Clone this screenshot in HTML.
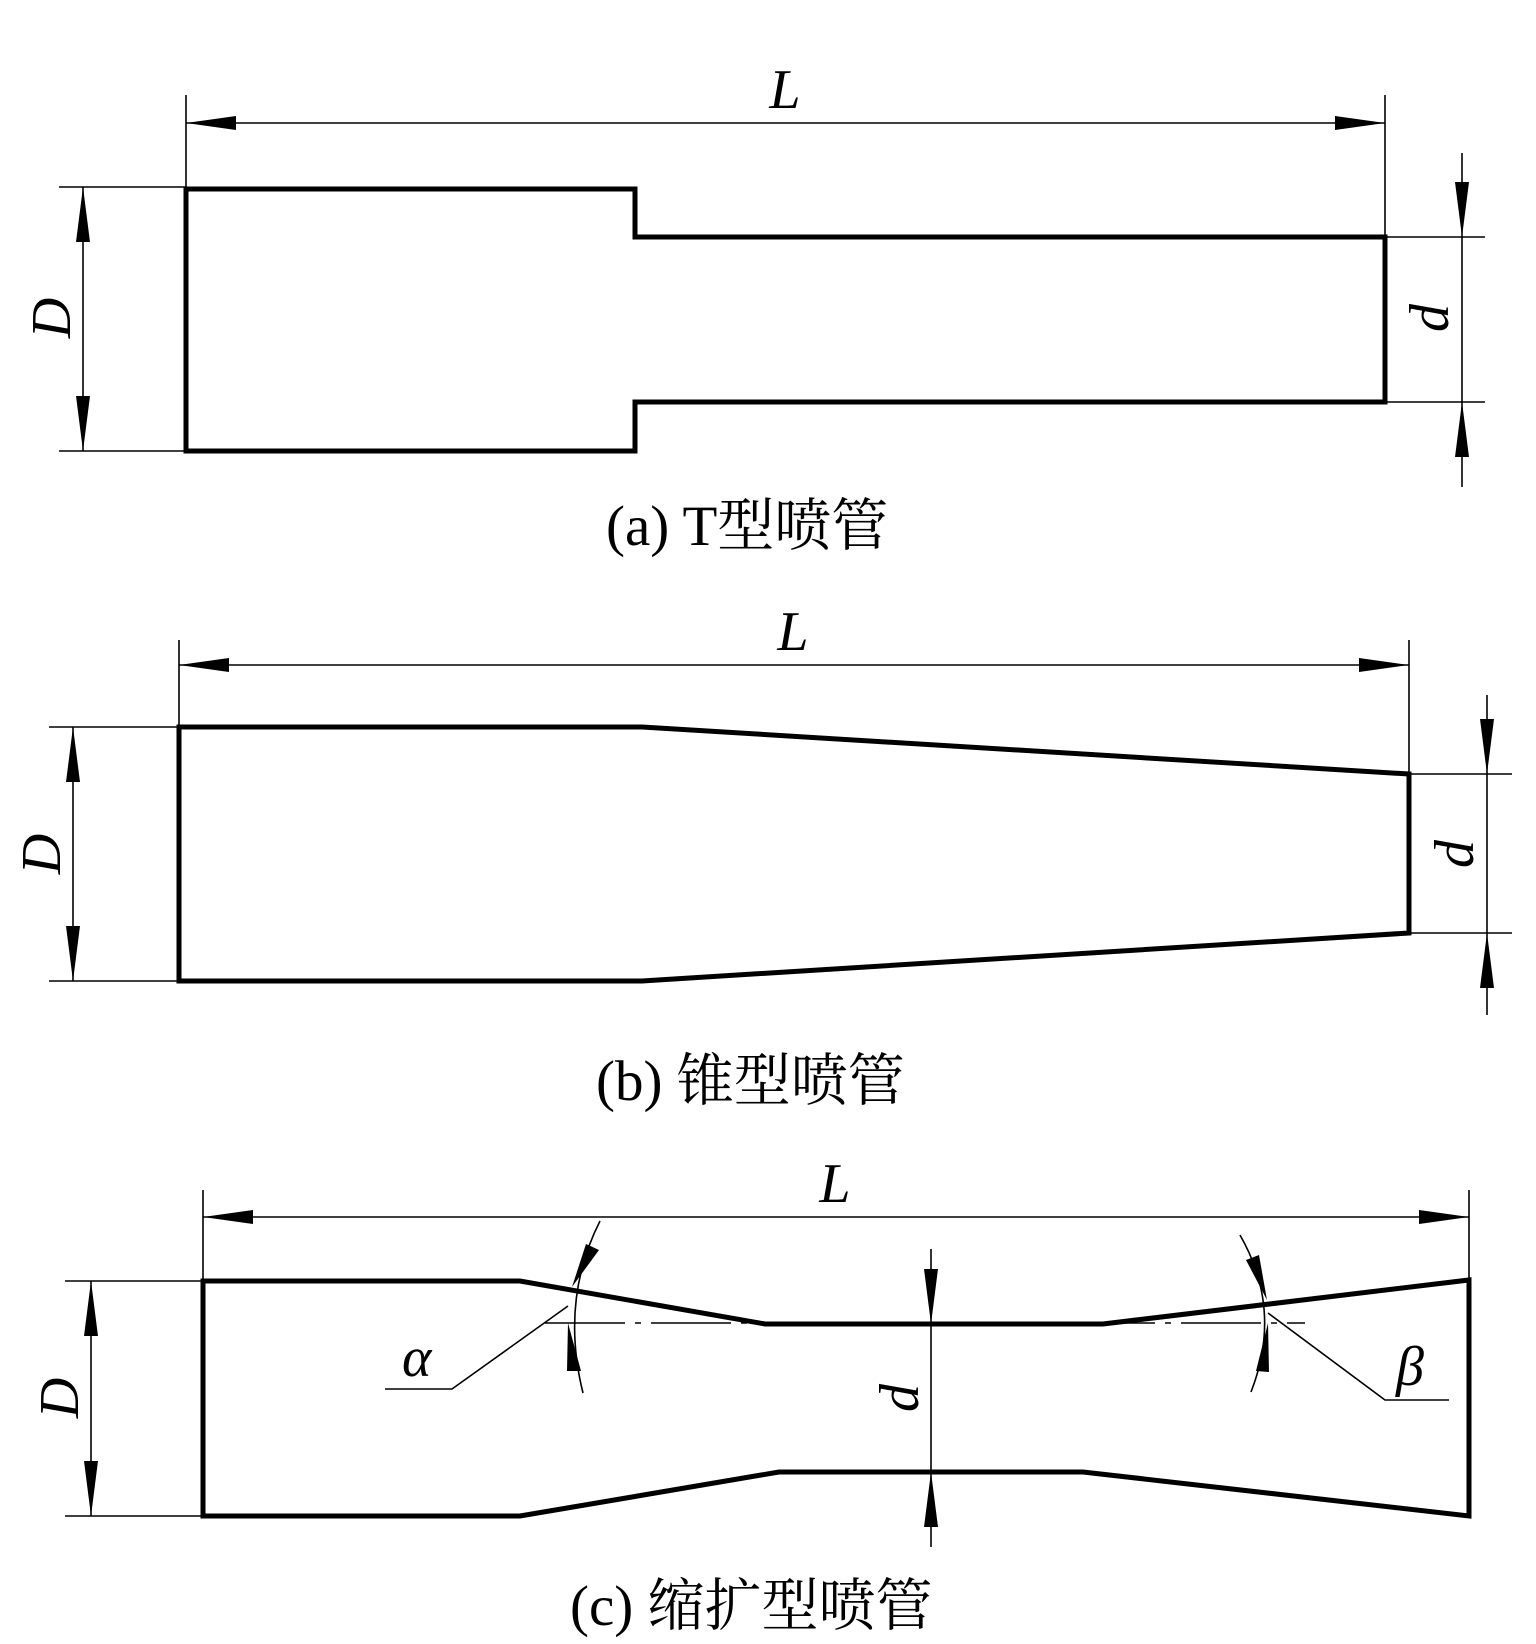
<!DOCTYPE html>
<html><head><meta charset="utf-8"><style>
html,body{margin:0;padding:0;background:#fff;}
svg{display:block;}
.tk{stroke:#000;stroke-width:5;fill:none;stroke-linejoin:miter;}
.tn{stroke:#000;stroke-width:1.6;fill:none;}
.cap{font-family:"Liberation Serif","Noto Serif CJK SC",serif;font-size:57px;fill:#000;}
.it{font-family:"Liberation Serif",serif;font-style:italic;font-size:56px;fill:#000;}
</style></head><body>
<svg width="1536" height="1644" viewBox="0 0 1536 1644" xmlns="http://www.w3.org/2000/svg">

<!-- (a) -->
<path class="tk" d="M186,189 H635 V237 H1385 V402 H635 V451 H186 Z"/>
<line class="tn" x1="186" y1="95" x2="186" y2="189"/>
<line class="tn" x1="1385" y1="95" x2="1385" y2="237"/>
<line class="tn" x1="186" y1="123" x2="1385" y2="123"/>
<path d="M186,123 L236,116 L236,130 Z M1385,123 L1335,116 L1335,130 Z" fill="#000"/>
<text class="it" x="785" y="108" text-anchor="middle">L</text>
<line class="tn" x1="59" y1="187" x2="186" y2="187"/>
<line class="tn" x1="59" y1="451" x2="186" y2="451"/>
<line class="tn" x1="83" y1="187" x2="83" y2="451"/>
<path d="M83,187 L76,242 L90,242 Z M83,451 L76,396 L90,396 Z" fill="#000"/>
<text class="it" transform="translate(70,318) rotate(-90)" text-anchor="middle">D</text>
<line class="tn" x1="1385" y1="237" x2="1485" y2="237"/>
<line class="tn" x1="1385" y1="402" x2="1485" y2="402"/>
<line class="tn" x1="1462" y1="153" x2="1462" y2="487"/>
<path d="M1462,237 L1455,182 L1469,182 Z M1462,402 L1455,457 L1469,457 Z" fill="#000"/>
<text class="it" transform="translate(1448,318) rotate(-90)" text-anchor="middle">d</text>
<text class="cap" x="606" y="545">(a) T型喷管</text>

<!-- (b) -->
<path class="tk" d="M179,727 H642 L1409,774 V933 L642,981 H179 Z"/>
<line class="tn" x1="179" y1="640" x2="179" y2="727"/>
<line class="tn" x1="1409" y1="640" x2="1409" y2="774"/>
<line class="tn" x1="179" y1="665" x2="1409" y2="665"/>
<path d="M179,665 L229,658 L229,672 Z M1409,665 L1359,658 L1359,672 Z" fill="#000"/>
<text class="it" x="793" y="650" text-anchor="middle">L</text>
<line class="tn" x1="49" y1="727" x2="179" y2="727"/>
<line class="tn" x1="49" y1="981" x2="179" y2="981"/>
<line class="tn" x1="73" y1="727" x2="73" y2="981"/>
<path d="M73,727 L66,782 L80,782 Z M73,981 L66,926 L80,926 Z" fill="#000"/>
<text class="it" transform="translate(60,854) rotate(-90)" text-anchor="middle">D</text>
<line class="tn" x1="1409" y1="774" x2="1512" y2="774"/>
<line class="tn" x1="1409" y1="933" x2="1512" y2="933"/>
<line class="tn" x1="1487" y1="695" x2="1487" y2="1015"/>
<path d="M1487,774 L1480,719 L1494,719 Z M1487,933 L1480,988 L1494,988 Z" fill="#000"/>
<text class="it" transform="translate(1473,854) rotate(-90)" text-anchor="middle">d</text>
<text class="cap" x="596" y="1100">(b) 锥型喷管</text>

<!-- (c) -->
<path class="tk" d="M203,1281 H520 L765,1324 H1103 L1469,1280 V1516 L1083,1472 H779 L520,1516 H203 Z"/>
<line class="tn" x1="203" y1="1190" x2="203" y2="1281"/>
<line class="tn" x1="1469" y1="1190" x2="1469" y2="1280"/>
<line class="tn" x1="203" y1="1217" x2="1469" y2="1217"/>
<path d="M203,1217 L253,1210 L253,1224 Z M1469,1217 L1419,1210 L1419,1224 Z" fill="#000"/>
<text class="it" x="835" y="1202" text-anchor="middle">L</text>
<line class="tn" x1="65" y1="1281" x2="203" y2="1281"/>
<line class="tn" x1="65" y1="1516" x2="203" y2="1516"/>
<line class="tn" x1="91" y1="1281" x2="91" y2="1516"/>
<path d="M91,1281 L84,1336 L98,1336 Z M91,1516 L84,1461 L98,1461 Z" fill="#000"/>
<text class="it" transform="translate(78,1398) rotate(-90)" text-anchor="middle">D</text>
<line class="tn" x1="931" y1="1249" x2="931" y2="1547"/>
<path d="M931,1324 L924,1269 L938,1269 Z M931,1472 L924,1527 L938,1527 Z" fill="#000"/>
<text class="it" transform="translate(918,1398) rotate(-90)" text-anchor="middle">d</text>
<line class="tn" x1="545" y1="1323" x2="1305" y2="1323" stroke-dasharray="80,10,6,10"/>
<path class="tn" d="M600,1221 Q560,1300 583,1393"/>
<path d="M572,1287 L586,1244 L599,1250 Z" fill="#000"/>
<path d="M568,1323 L567,1371 L581,1371 Z" fill="#000"/>
<polyline class="tn" points="568,1306 452,1389 385,1389"/>
<text class="it" x="402" y="1376">α</text>
<path class="tn" d="M1240,1235 Q1283,1310 1251,1392"/>
<path d="M1267,1300 L1246,1260 L1259,1255 Z" fill="#000"/>
<path d="M1268,1323 L1256,1371 L1269,1372 Z" fill="#000"/>
<polyline class="tn" points="1268,1313 1385,1400 1449,1400"/>
<text class="it" x="1396" y="1385">β</text>
<text class="cap" x="570" y="1625">(c) 缩扩型喷管</text>
</svg>
</body></html>
